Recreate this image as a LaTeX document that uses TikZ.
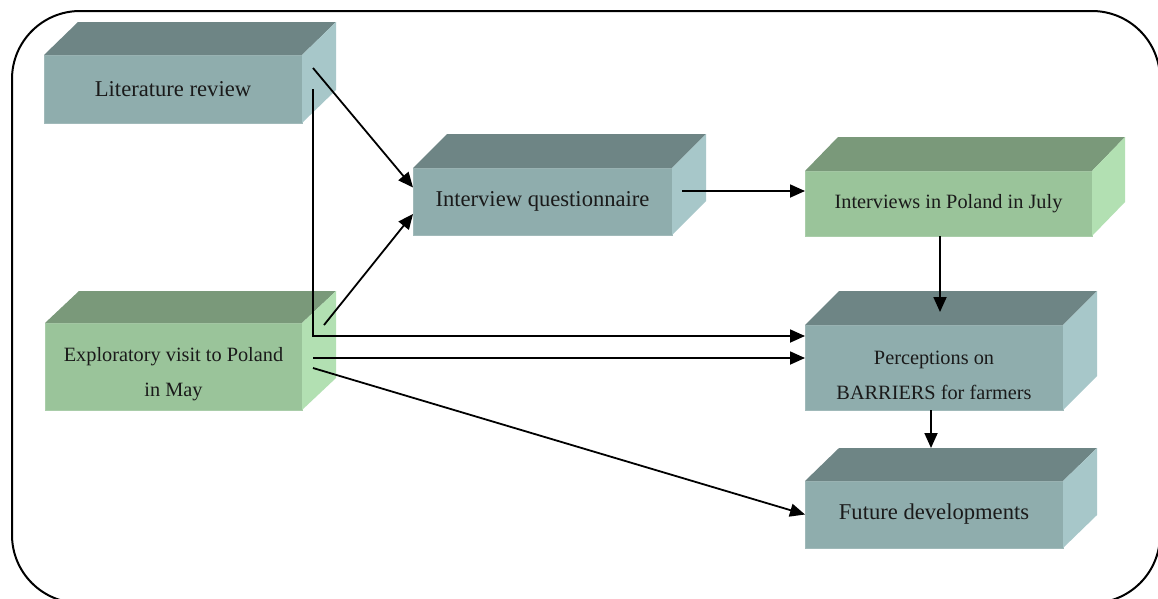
\documentclass[tikz,border=0pt]{standalone}
\usepackage{fontspec}
\setmainfont{Liberation Serif}
\usetikzlibrary{arrows.meta}
\definecolor{bfront}{HTML}{8FADAD}
\definecolor{btop}{HTML}{6E8585}
\definecolor{bside}{HTML}{A7C7C9}
\definecolor{gfront}{HTML}{9AC49A}
\definecolor{gtop}{HTML}{7A997A}
\definecolor{gside}{HTML}{B2E0B2}
\definecolor{txt}{HTML}{1A1A1A}
\newcommand\boxfaces[4]{%
  \fill[#2] (#1.north west) -- ++(#4) -- ([shift={(#4)}]#1.north east) -- (#1.north east) -- cycle;
  \fill[#3] (#1.north east) -- ++(#4) -- ([shift={(#4)}]#1.south east) -- (#1.south east) -- cycle;}
\newcommand\lowerstrut{\rule{0pt}{30pt}}
\tikzset{
  front/.style={rectangle, inner sep=0pt, outer sep=0pt, text=txt, align=center},
  bluebox/.style={front, fill=bfront, draw=bfront!85!white, line width=1pt},
  greenbox/.style={front, fill=gfront, draw=gfront!85!white, line width=1pt},
  bigtext/.style={font=\fontsize{22.6}{35}\selectfont},
  smalltext/.style={font=\fontsize{20.3}{35}\selectfont},
  conn/.style={line width=1.8pt, -{Triangle[length=15pt,width=13pt]}},
}
\begin{document}
\begin{tikzpicture}[x=1pt,y=-1pt]
\clip (0,0) rectangle (1158,598);
\fill[white] (0,0) rectangle (1158,598);
\draw[line width=2pt, rounded corners=68pt] (12,11) rectangle (1160,603);

\node[bluebox, bigtext, minimum width=258pt, minimum height=68pt] (lit) at (173,89) {Literature review};
\boxfaces{lit}{btop}{bside}{34,-33}
\node[bluebox, bigtext, minimum width=259pt, minimum height=67pt] (iq) at (542.5,201.5) {Interview questionnaire};
\boxfaces{iq}{btop}{bside}{34,-34}
\node[greenbox, smalltext, minimum width=287pt, minimum height=65pt] (ipj) at (948.5,203.5) {Interviews in Poland in July};
\boxfaces{ipj}{gtop}{gside}{33,-34}
\node[greenbox, smalltext, minimum width=257pt, minimum height=87pt] (expl) at (173.5,366.5) {\lowerstrut Exploratory visit to Poland\\in May};
\boxfaces{expl}{gtop}{gside}{34,-32}
\node[bluebox, smalltext, minimum width=258pt, minimum height=85pt] (perc) at (934,367.5) {\lowerstrut Perceptions on\\BARRIERS for farmers};
\boxfaces{perc}{btop}{bside}{34,-34}
\node[bluebox, bigtext, minimum width=258pt, minimum height=67pt] (fut) at (934,514.5) {Future developments};
\boxfaces{fut}{btop}{bside}{34,-33}

\draw[conn] ([xshift=11pt,yshift=21pt]lit.east) -- ([yshift=14pt]iq.west);
\draw[conn] ([xshift=11pt]lit.east) |- ([yshift=31.5pt]perc.west);
\draw[conn] ([xshift=22pt,yshift=41.5pt]expl.east) -- ([yshift=-12.5pt]iq.west);
\draw[conn] ([xshift=11pt,yshift=8.5pt]expl.east) -- ([yshift=9.5pt]perc.west);
\draw[conn] ([xshift=11pt,yshift=-1.5pt]expl.east) -- (fut.west);
\draw[conn] ([xshift=10pt,yshift=10.5pt]iq.east) -- ([yshift=12.5pt]ipj.west);
\draw[conn] ([xshift=-8.5pt]ipj.south) -- ([xshift=6pt,yshift=13pt]perc.north);
\draw[conn] ([xshift=-3pt]perc.south) -- ([xshift=-3pt,yshift=33pt]fut.north);
\end{tikzpicture}
\end{document}
